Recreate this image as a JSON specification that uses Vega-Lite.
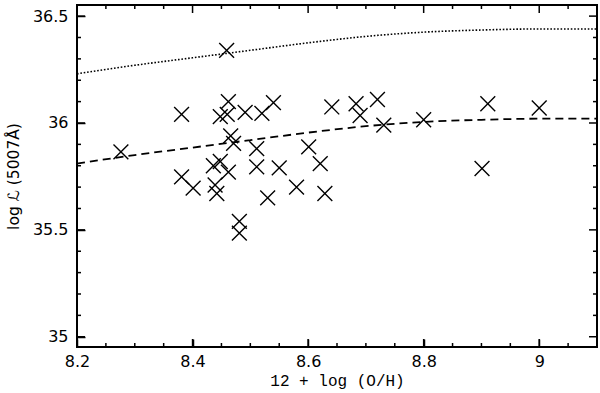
{
  "$schema": "https://vega.github.io/schema/vega-lite/v6.json",
  "autosize": "none",
  "width": 520,
  "height": 342,
  "padding": {"left": 77, "top": 5, "right": 3, "bottom": 46},
  "background": "white",
  "config": {
    "view": {"stroke": "black", "strokeWidth": 2},
    "scale": {"continuousPadding": 0},
    "axis": {"domain": false, "grid": false, "ticks": true, "tickColor": "black", "tickWidth": 1.5, "labelColor": "black", "titleColor": "black"}
  },
  "datasets": {
    "pts": [
      {"oh": 8.276, "L": 35.865},
      {"oh": 8.381, "L": 36.04},
      {"oh": 8.459, "L": 36.34},
      {"oh": 8.448, "L": 36.03},
      {"oh": 8.462, "L": 36.10},
      {"oh": 8.460, "L": 36.04},
      {"oh": 8.491, "L": 36.05},
      {"oh": 8.52, "L": 36.045},
      {"oh": 8.54, "L": 36.095},
      {"oh": 8.641, "L": 36.075},
      {"oh": 8.683, "L": 36.09},
      {"oh": 8.69, "L": 36.035},
      {"oh": 8.72, "L": 36.11},
      {"oh": 8.731, "L": 35.99},
      {"oh": 8.80, "L": 36.015},
      {"oh": 8.911, "L": 36.09},
      {"oh": 9.0, "L": 36.07},
      {"oh": 8.466, "L": 35.94},
      {"oh": 8.471, "L": 35.905},
      {"oh": 8.511, "L": 35.88},
      {"oh": 8.601, "L": 35.888},
      {"oh": 8.381, "L": 35.748},
      {"oh": 8.401, "L": 35.695},
      {"oh": 8.436, "L": 35.80},
      {"oh": 8.448, "L": 35.82},
      {"oh": 8.462, "L": 35.77},
      {"oh": 8.511, "L": 35.795},
      {"oh": 8.55, "L": 35.79},
      {"oh": 8.621, "L": 35.81},
      {"oh": 8.439, "L": 35.71},
      {"oh": 8.442, "L": 35.67},
      {"oh": 8.58, "L": 35.70},
      {"oh": 8.53, "L": 35.65},
      {"oh": 8.629, "L": 35.67},
      {"oh": 8.481, "L": 35.54},
      {"oh": 8.481, "L": 35.485},
      {"oh": 8.901, "L": 35.787}
    ],
    "curves": [
      {"oh": 8.2, "L": 36.23, "curve": "upper"},
      {"oh": 8.3, "L": 36.27, "curve": "upper"},
      {"oh": 8.4, "L": 36.305, "curve": "upper"},
      {"oh": 8.5, "L": 36.34, "curve": "upper"},
      {"oh": 8.6, "L": 36.375, "curve": "upper"},
      {"oh": 8.7, "L": 36.405, "curve": "upper"},
      {"oh": 8.8, "L": 36.425, "curve": "upper"},
      {"oh": 8.9, "L": 36.435, "curve": "upper"},
      {"oh": 9.0, "L": 36.44, "curve": "upper"},
      {"oh": 9.1, "L": 36.44, "curve": "upper"},
      {"oh": 8.2, "L": 35.81, "curve": "lower"},
      {"oh": 8.3, "L": 35.85, "curve": "lower"},
      {"oh": 8.4, "L": 35.885, "curve": "lower"},
      {"oh": 8.5, "L": 35.92, "curve": "lower"},
      {"oh": 8.6, "L": 35.955, "curve": "lower"},
      {"oh": 8.7, "L": 35.985, "curve": "lower"},
      {"oh": 8.8, "L": 36.005, "curve": "lower"},
      {"oh": 8.9, "L": 36.015, "curve": "lower"},
      {"oh": 9.0, "L": 36.02, "curve": "lower"},
      {"oh": 9.1, "L": 36.02, "curve": "lower"}
    ],
    "xmaj": [{"v": 8.4}, {"v": 8.6}, {"v": 8.8}, {"v": 9.0}],
    "xmin": [{"v": 8.25}, {"v": 8.3}, {"v": 8.35}, {"v": 8.45}, {"v": 8.5}, {"v": 8.55}, {"v": 8.65}, {"v": 8.7}, {"v": 8.75}, {"v": 8.85}, {"v": 8.9}, {"v": 8.95}, {"v": 9.05}],
    "ymaj": [{"v": 35}, {"v": 35.5}, {"v": 36}, {"v": 36.5}],
    "ymin": [{"v": 35.1}, {"v": 35.2}, {"v": 35.3}, {"v": 35.4}, {"v": 35.6}, {"v": 35.7}, {"v": 35.8}, {"v": 35.9}, {"v": 36.1}, {"v": 36.2}, {"v": 36.3}, {"v": 36.4}]
  },
  "resolve": {"axis": {"x": "independent", "y": "independent"}},
  "layer": [
    {
      "data": {"name": "pts"},
      "mark": {"type": "point", "shape": "M-1,-1L1,1M-1,1L1,-1", "filled": false, "stroke": "black", "strokeWidth": 1.4, "size": 220, "opacity": 1},
      "encoding": {
        "x": {"field": "oh", "type": "quantitative", "scale": {"domain": [8.2, 9.1], "nice": false, "zero": false, "padding": 0},
          "axis": {"orient": "bottom", "title": "12 + log (O/H)",
            "values": [8.2, 8.4, 8.6, 8.8, 9],
            "tickSize": 8, "offset": -8,
            "labelExpr": "toString(datum.value)",
            "labelFont": "DejaVu Sans", "labelFontSize": 16, "labelPadding": 6, "labelFlush": false, "labelOverlap": false,
            "titleFont": "Liberation Mono", "titleFontSize": 16, "titleFontWeight": "normal", "titlePadding": 3}},
        "y": {"field": "L", "type": "quantitative", "scale": {"domain": [34.952, 36.552], "nice": false, "zero": false, "padding": 0},
          "axis": {"orient": "left", "title": "log ℒ (5007Å)",
            "values": [35, 35.5, 36, 36.5],
            "tickSize": 8, "offset": -8,
            "labelExpr": "toString(datum.value)",
            "labelFont": "DejaVu Sans", "labelFontSize": 16, "labelPadding": 9, "labelFlush": false, "labelOverlap": false,
            "titleFont": "DejaVu Sans", "titleFontSize": 15.5, "titleFontWeight": "normal", "titlePadding": 11}}
      }
    },
    {
      "data": {"name": "curves"},
      "transform": [{"filter": "datum.curve == 'upper'"}],
      "mark": {"type": "line", "color": "black", "strokeWidth": 1.6, "strokeDash": [1.6, 1.8], "interpolate": "monotone", "clip": true},
      "encoding": {
        "x": {"field": "oh", "type": "quantitative", "axis": null},
        "y": {"field": "L", "type": "quantitative", "axis": null}
      }
    },
    {
      "data": {"name": "curves"},
      "transform": [{"filter": "datum.curve == 'lower'"}],
      "mark": {"type": "line", "color": "black", "strokeWidth": 1.8, "strokeDash": [8, 5], "interpolate": "monotone", "clip": true},
      "encoding": {
        "x": {"field": "oh", "type": "quantitative", "axis": null},
        "y": {"field": "L", "type": "quantitative", "axis": null}
      }
    },
    {
      "data": {"name": "xmaj"},
      "mark": {"type": "bar", "orient": "vertical", "color": "black", "size": 1.5},
      "encoding": {
        "x": {"field": "v", "type": "quantitative", "axis": null},
        "y": {"datum": 34.952, "type": "quantitative", "axis": null},
        "y2": {"datum": 34.9894}
      }
    },
    {
      "data": {"name": "xmin"},
      "mark": {"type": "bar", "orient": "vertical", "color": "black", "size": 1.5},
      "encoding": {
        "x": {"field": "v", "type": "quantitative", "axis": null},
        "y": {"datum": 34.952, "type": "quantitative", "axis": null},
        "y2": {"datum": 34.9707}
      }
    },
    {
      "data": {"name": "xmaj"},
      "mark": {"type": "bar", "orient": "vertical", "color": "black", "size": 1.5},
      "encoding": {
        "x": {"field": "v", "type": "quantitative", "axis": null},
        "y": {"datum": 36.552, "type": "quantitative", "axis": null},
        "y2": {"datum": 36.5146}
      }
    },
    {
      "data": {"name": "xmin"},
      "mark": {"type": "bar", "orient": "vertical", "color": "black", "size": 1.5},
      "encoding": {
        "x": {"field": "v", "type": "quantitative", "axis": null},
        "y": {"datum": 36.552, "type": "quantitative", "axis": null},
        "y2": {"datum": 36.5333}
      }
    },
    {
      "data": {"name": "ymaj"},
      "mark": {"type": "bar", "orient": "horizontal", "color": "black", "size": 1.5},
      "encoding": {
        "y": {"field": "v", "type": "quantitative", "axis": null},
        "x": {"datum": 8.2, "type": "quantitative", "axis": null},
        "x2": {"datum": 8.21385}
      }
    },
    {
      "data": {"name": "ymin"},
      "mark": {"type": "bar", "orient": "horizontal", "color": "black", "size": 1.5},
      "encoding": {
        "y": {"field": "v", "type": "quantitative", "axis": null},
        "x": {"datum": 8.2, "type": "quantitative", "axis": null},
        "x2": {"datum": 8.20692}
      }
    },
    {
      "data": {"name": "ymaj"},
      "mark": {"type": "bar", "orient": "horizontal", "color": "black", "size": 1.5},
      "encoding": {
        "y": {"field": "v", "type": "quantitative", "axis": null},
        "x": {"datum": 9.1, "type": "quantitative", "axis": null},
        "x2": {"datum": 9.08615}
      }
    },
    {
      "data": {"name": "ymin"},
      "mark": {"type": "bar", "orient": "horizontal", "color": "black", "size": 1.5},
      "encoding": {
        "y": {"field": "v", "type": "quantitative", "axis": null},
        "x": {"datum": 9.1, "type": "quantitative", "axis": null},
        "x2": {"datum": 9.09308}
      }
    }
  ]
}
